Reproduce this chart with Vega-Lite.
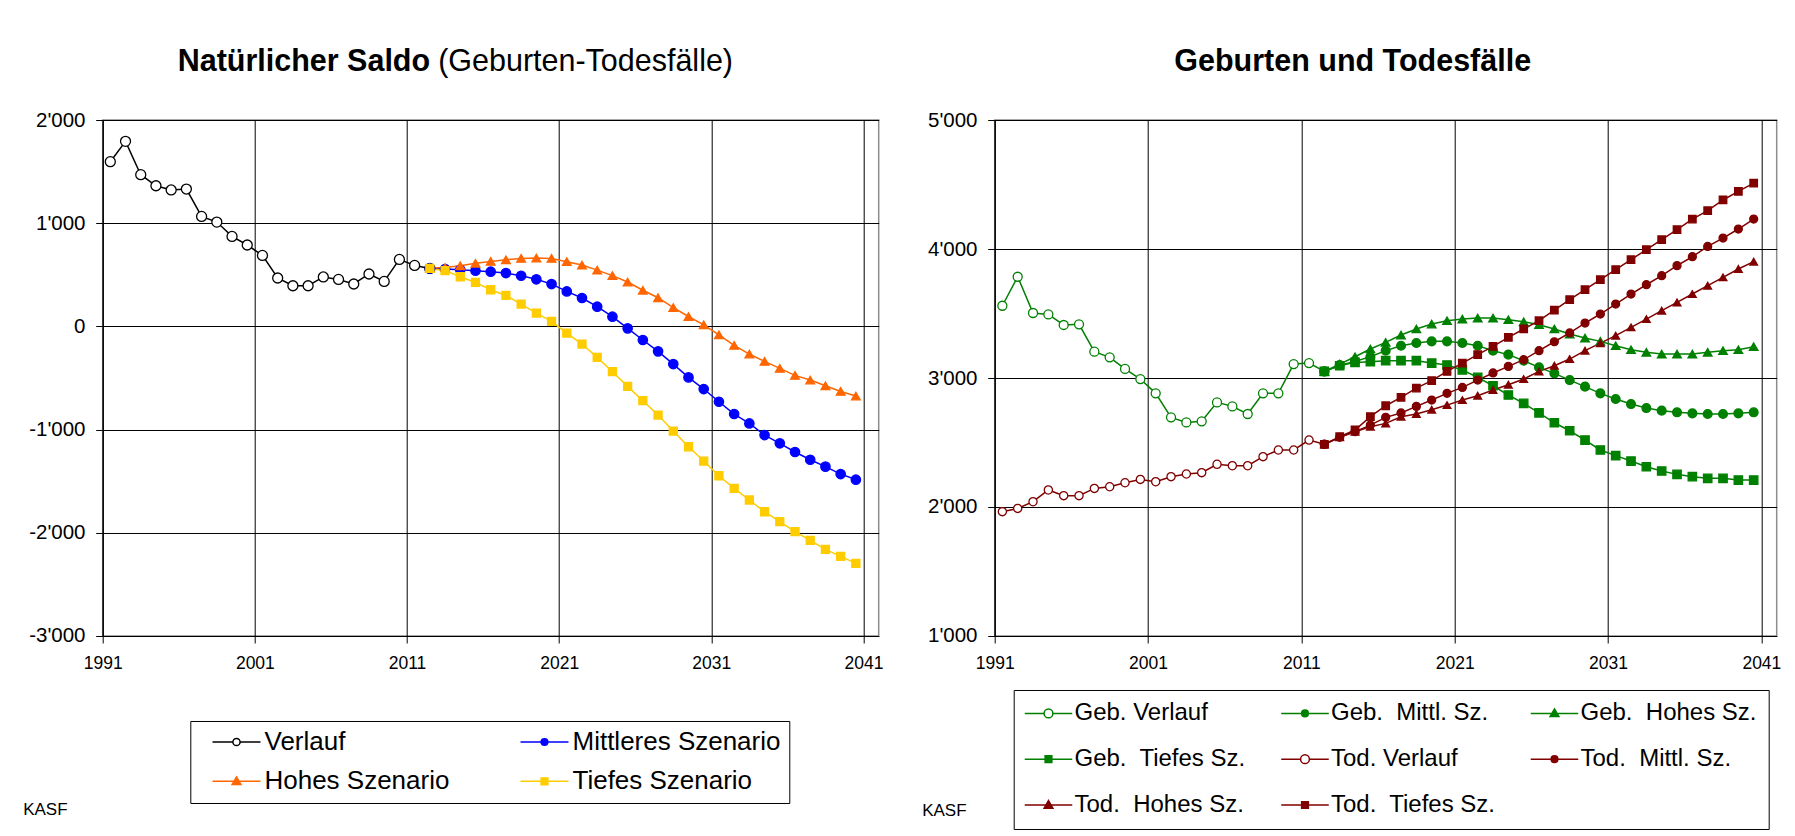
{
  "$schema": "https://vega.github.io/schema/vega-lite/v6.json",
  "background": "white",
  "padding": {"left": 21.7, "top": 45, "right": 0, "bottom": 0},
  "bounds": "flush",
  "spacing": 116,
  "resolve": {"scale": {"color": "independent", "shape": "independent", "fill": "independent", "stroke": "independent", "size": "independent"}, "legend": {"shape": "independent", "fill": "independent", "stroke": "independent", "color": "independent", "size": "independent"}},
  "datasets": {
    "saldo": [
      {"year":1991,"series":"Verlauf","value":1596},{"year":1992,"series":"Verlauf","value":1793},{"year":1993,"series":"Verlauf","value":1470},{"year":1994,"series":"Verlauf","value":1363},{"year":1995,"series":"Verlauf","value":1322},{"year":1996,"series":"Verlauf","value":1331},{"year":1997,"series":"Verlauf","value":1066},{"year":1998,"series":"Verlauf","value":1011},{"year":1999,"series":"Verlauf","value":872},{"year":2000,"series":"Verlauf","value":789},{"year":2001,"series":"Verlauf","value":688},{"year":2002,"series":"Verlauf","value":469},{"year":2003,"series":"Verlauf","value":394},{"year":2004,"series":"Verlauf","value":394},{"year":2005,"series":"Verlauf","value":479},{"year":2006,"series":"Verlauf","value":455},{"year":2007,"series":"Verlauf","value":411},{"year":2008,"series":"Verlauf","value":508},{"year":2009,"series":"Verlauf","value":436},{"year":2010,"series":"Verlauf","value":649},{"year":2011,"series":"Verlauf","value":591},{"year":2012,"series":"Verlauf","value":562},
      {"year":2012,"series":"Mittleres Szenario","value":562},{"year":2013,"series":"Mittleres Szenario","value":556},{"year":2014,"series":"Mittleres Szenario","value":548},{"year":2015,"series":"Mittleres Szenario","value":540},{"year":2016,"series":"Mittleres Szenario","value":530},{"year":2017,"series":"Mittleres Szenario","value":517},{"year":2018,"series":"Mittleres Szenario","value":491},{"year":2019,"series":"Mittleres Szenario","value":456},{"year":2020,"series":"Mittleres Szenario","value":410},{"year":2021,"series":"Mittleres Szenario","value":339},{"year":2022,"series":"Mittleres Szenario","value":275},{"year":2023,"series":"Mittleres Szenario","value":191},{"year":2024,"series":"Mittleres Szenario","value":94},{"year":2025,"series":"Mittleres Szenario","value":-19},{"year":2026,"series":"Mittleres Szenario","value":-132},{"year":2027,"series":"Mittleres Szenario","value":-242},{"year":2028,"series":"Mittleres Szenario","value":-365},{"year":2029,"series":"Mittleres Szenario","value":-494},{"year":2030,"series":"Mittleres Szenario","value":-607},{"year":2031,"series":"Mittleres Szenario","value":-730},{"year":2032,"series":"Mittleres Szenario","value":-849},{"year":2033,"series":"Mittleres Szenario","value":-940},{"year":2034,"series":"Mittleres Szenario","value":-1053},{"year":2035,"series":"Mittleres Szenario","value":-1133},{"year":2036,"series":"Mittleres Szenario","value":-1217},{"year":2037,"series":"Mittleres Szenario","value":-1292},{"year":2038,"series":"Mittleres Szenario","value":-1359},{"year":2039,"series":"Mittleres Szenario","value":-1431},{"year":2040,"series":"Mittleres Szenario","value":-1485},
      {"year":2012,"series":"Hohes Szenario","value":565},{"year":2013,"series":"Hohes Szenario","value":570},{"year":2014,"series":"Hohes Szenario","value":588},{"year":2015,"series":"Hohes Szenario","value":612},{"year":2016,"series":"Hohes Szenario","value":630},{"year":2017,"series":"Hohes Szenario","value":646},{"year":2018,"series":"Hohes Szenario","value":659},{"year":2019,"series":"Hohes Szenario","value":662},{"year":2020,"series":"Hohes Szenario","value":659},{"year":2021,"series":"Hohes Szenario","value":627},{"year":2022,"series":"Hohes Szenario","value":595},{"year":2023,"series":"Hohes Szenario","value":545},{"year":2024,"series":"Hohes Szenario","value":492},{"year":2025,"series":"Hohes Szenario","value":430},{"year":2026,"series":"Hohes Szenario","value":350},{"year":2027,"series":"Hohes Szenario","value":278},{"year":2028,"series":"Hohes Szenario","value":182},{"year":2029,"series":"Hohes Szenario","value":96},{"year":2030,"series":"Hohes Szenario","value":15},{"year":2031,"series":"Hohes Szenario","value":-82},{"year":2032,"series":"Hohes Szenario","value":-184},{"year":2033,"series":"Hohes Szenario","value":-268},{"year":2034,"series":"Hohes Szenario","value":-339},{"year":2035,"series":"Hohes Szenario","value":-407},{"year":2036,"series":"Hohes Szenario","value":-475},{"year":2037,"series":"Hohes Szenario","value":-520},{"year":2038,"series":"Hohes Szenario","value":-575},{"year":2039,"series":"Hohes Szenario","value":-630},{"year":2040,"series":"Hohes Szenario","value":-675},
      {"year":2012,"series":"Tiefes Szenario","value":562},{"year":2013,"series":"Tiefes Szenario","value":540},{"year":2014,"series":"Tiefes Szenario","value":481},{"year":2015,"series":"Tiefes Szenario","value":426},{"year":2016,"series":"Tiefes Szenario","value":355},{"year":2017,"series":"Tiefes Szenario","value":300},{"year":2018,"series":"Tiefes Szenario","value":216},{"year":2019,"series":"Tiefes Szenario","value":129},{"year":2020,"series":"Tiefes Szenario","value":48},{"year":2021,"series":"Tiefes Szenario","value":-65},{"year":2022,"series":"Tiefes Szenario","value":-171},{"year":2023,"series":"Tiefes Szenario","value":-300},{"year":2024,"series":"Tiefes Szenario","value":-439},{"year":2025,"series":"Tiefes Szenario","value":-581},{"year":2026,"series":"Tiefes Szenario","value":-720},{"year":2027,"series":"Tiefes Szenario","value":-859},{"year":2028,"series":"Tiefes Szenario","value":-1014},{"year":2029,"series":"Tiefes Szenario","value":-1166},{"year":2030,"series":"Tiefes Szenario","value":-1305},{"year":2031,"series":"Tiefes Szenario","value":-1447},{"year":2032,"series":"Tiefes Szenario","value":-1569},{"year":2033,"series":"Tiefes Szenario","value":-1682},{"year":2034,"series":"Tiefes Szenario","value":-1796},{"year":2035,"series":"Tiefes Szenario","value":-1892},{"year":2036,"series":"Tiefes Szenario","value":-1989},{"year":2037,"series":"Tiefes Szenario","value":-2073},{"year":2038,"series":"Tiefes Szenario","value":-2161},{"year":2039,"series":"Tiefes Szenario","value":-2228},{"year":2040,"series":"Tiefes Szenario","value":-2296}
    ],
    "gt": [
      {"year":1991,"series":"Geb. Verlauf","value":3560},{"year":1992,"series":"Geb. Verlauf","value":3785},{"year":1993,"series":"Geb. Verlauf","value":3504},{"year":1994,"series":"Geb. Verlauf","value":3493},{"year":1995,"series":"Geb. Verlauf","value":3411},{"year":1996,"series":"Geb. Verlauf","value":3416},{"year":1997,"series":"Geb. Verlauf","value":3204},{"year":1998,"series":"Geb. Verlauf","value":3160},{"year":1999,"series":"Geb. Verlauf","value":3070},{"year":2000,"series":"Geb. Verlauf","value":2992},{"year":2001,"series":"Geb. Verlauf","value":2881},{"year":2002,"series":"Geb. Verlauf","value":2695},{"year":2003,"series":"Geb. Verlauf","value":2656},{"year":2004,"series":"Geb. Verlauf","value":2664},{"year":2005,"series":"Geb. Verlauf","value":2811},{"year":2006,"series":"Geb. Verlauf","value":2780},{"year":2007,"series":"Geb. Verlauf","value":2721},{"year":2008,"series":"Geb. Verlauf","value":2881},{"year":2009,"series":"Geb. Verlauf","value":2881},{"year":2010,"series":"Geb. Verlauf","value":3108},{"year":2011,"series":"Geb. Verlauf","value":3116},{"year":2012,"series":"Geb. Verlauf","value":3051},
      {"year":1991,"series":"Tod. Verlauf","value":1964},{"year":1992,"series":"Tod. Verlauf","value":1989},{"year":1993,"series":"Tod. Verlauf","value":2041},{"year":1994,"series":"Tod. Verlauf","value":2132},{"year":1995,"series":"Tod. Verlauf","value":2088},{"year":1996,"series":"Tod. Verlauf","value":2088},{"year":1997,"series":"Tod. Verlauf","value":2144},{"year":1998,"series":"Tod. Verlauf","value":2157},{"year":1999,"series":"Tod. Verlauf","value":2188},{"year":2000,"series":"Tod. Verlauf","value":2214},{"year":2001,"series":"Tod. Verlauf","value":2196},{"year":2002,"series":"Tod. Verlauf","value":2235},{"year":2003,"series":"Tod. Verlauf","value":2256},{"year":2004,"series":"Tod. Verlauf","value":2266},{"year":2005,"series":"Tod. Verlauf","value":2331},{"year":2006,"series":"Tod. Verlauf","value":2320},{"year":2007,"series":"Tod. Verlauf","value":2320},{"year":2008,"series":"Tod. Verlauf","value":2390},{"year":2009,"series":"Tod. Verlauf","value":2442},{"year":2010,"series":"Tod. Verlauf","value":2442},{"year":2011,"series":"Tod. Verlauf","value":2519},{"year":2012,"series":"Tod. Verlauf","value":2486},
      {"year":2012,"series":"Geb.\u00a0 Mittl. Sz.","value":3051},{"year":2013,"series":"Geb.\u00a0 Mittl. Sz.","value":3100},{"year":2014,"series":"Geb.\u00a0 Mittl. Sz.","value":3129},{"year":2015,"series":"Geb.\u00a0 Mittl. Sz.","value":3165},{"year":2016,"series":"Geb.\u00a0 Mittl. Sz.","value":3212},{"year":2017,"series":"Geb.\u00a0 Mittl. Sz.","value":3250},{"year":2018,"series":"Geb.\u00a0 Mittl. Sz.","value":3271},{"year":2019,"series":"Geb.\u00a0 Mittl. Sz.","value":3284},{"year":2020,"series":"Geb.\u00a0 Mittl. Sz.","value":3284},{"year":2021,"series":"Geb.\u00a0 Mittl. Sz.","value":3271},{"year":2022,"series":"Geb.\u00a0 Mittl. Sz.","value":3250},{"year":2023,"series":"Geb.\u00a0 Mittl. Sz.","value":3212},{"year":2024,"series":"Geb.\u00a0 Mittl. Sz.","value":3181},{"year":2025,"series":"Geb.\u00a0 Mittl. Sz.","value":3134},{"year":2026,"series":"Geb.\u00a0 Mittl. Sz.","value":3082},{"year":2027,"series":"Geb.\u00a0 Mittl. Sz.","value":3036},{"year":2028,"series":"Geb.\u00a0 Mittl. Sz.","value":2984},{"year":2029,"series":"Geb.\u00a0 Mittl. Sz.","value":2933},{"year":2030,"series":"Geb.\u00a0 Mittl. Sz.","value":2881},{"year":2031,"series":"Geb.\u00a0 Mittl. Sz.","value":2837},{"year":2032,"series":"Geb.\u00a0 Mittl. Sz.","value":2798},{"year":2033,"series":"Geb.\u00a0 Mittl. Sz.","value":2767},{"year":2034,"series":"Geb.\u00a0 Mittl. Sz.","value":2747},{"year":2035,"series":"Geb.\u00a0 Mittl. Sz.","value":2734},{"year":2036,"series":"Geb.\u00a0 Mittl. Sz.","value":2726},{"year":2037,"series":"Geb.\u00a0 Mittl. Sz.","value":2721},{"year":2038,"series":"Geb.\u00a0 Mittl. Sz.","value":2721},{"year":2039,"series":"Geb.\u00a0 Mittl. Sz.","value":2726},{"year":2040,"series":"Geb.\u00a0 Mittl. Sz.","value":2734},
      {"year":2012,"series":"Geb.\u00a0 Hohes Sz.","value":3051},{"year":2013,"series":"Geb.\u00a0 Hohes Sz.","value":3108},{"year":2014,"series":"Geb.\u00a0 Hohes Sz.","value":3165},{"year":2015,"series":"Geb.\u00a0 Hohes Sz.","value":3225},{"year":2016,"series":"Geb.\u00a0 Hohes Sz.","value":3276},{"year":2017,"series":"Geb.\u00a0 Hohes Sz.","value":3333},{"year":2018,"series":"Geb.\u00a0 Hohes Sz.","value":3380},{"year":2019,"series":"Geb.\u00a0 Hohes Sz.","value":3418},{"year":2020,"series":"Geb.\u00a0 Hohes Sz.","value":3444},{"year":2021,"series":"Geb.\u00a0 Hohes Sz.","value":3457},{"year":2022,"series":"Geb.\u00a0 Hohes Sz.","value":3465},{"year":2023,"series":"Geb.\u00a0 Hohes Sz.","value":3465},{"year":2024,"series":"Geb.\u00a0 Hohes Sz.","value":3452},{"year":2025,"series":"Geb.\u00a0 Hohes Sz.","value":3436},{"year":2026,"series":"Geb.\u00a0 Hohes Sz.","value":3413},{"year":2027,"series":"Geb.\u00a0 Hohes Sz.","value":3380},{"year":2028,"series":"Geb.\u00a0 Hohes Sz.","value":3341},{"year":2029,"series":"Geb.\u00a0 Hohes Sz.","value":3310},{"year":2030,"series":"Geb.\u00a0 Hohes Sz.","value":3284},{"year":2031,"series":"Geb.\u00a0 Hohes Sz.","value":3250},{"year":2032,"series":"Geb.\u00a0 Hohes Sz.","value":3219},{"year":2033,"series":"Geb.\u00a0 Hohes Sz.","value":3199},{"year":2034,"series":"Geb.\u00a0 Hohes Sz.","value":3186},{"year":2035,"series":"Geb.\u00a0 Hohes Sz.","value":3186},{"year":2036,"series":"Geb.\u00a0 Hohes Sz.","value":3186},{"year":2037,"series":"Geb.\u00a0 Hohes Sz.","value":3199},{"year":2038,"series":"Geb.\u00a0 Hohes Sz.","value":3212},{"year":2039,"series":"Geb.\u00a0 Hohes Sz.","value":3219},{"year":2040,"series":"Geb.\u00a0 Hohes Sz.","value":3243},
      {"year":2012,"series":"Geb.\u00a0 Tiefes Sz.","value":3051},{"year":2013,"series":"Geb.\u00a0 Tiefes Sz.","value":3095},{"year":2014,"series":"Geb.\u00a0 Tiefes Sz.","value":3121},{"year":2015,"series":"Geb.\u00a0 Tiefes Sz.","value":3126},{"year":2016,"series":"Geb.\u00a0 Tiefes Sz.","value":3134},{"year":2017,"series":"Geb.\u00a0 Tiefes Sz.","value":3134},{"year":2018,"series":"Geb.\u00a0 Tiefes Sz.","value":3134},{"year":2019,"series":"Geb.\u00a0 Tiefes Sz.","value":3116},{"year":2020,"series":"Geb.\u00a0 Tiefes Sz.","value":3101},{"year":2021,"series":"Geb.\u00a0 Tiefes Sz.","value":3062},{"year":2022,"series":"Geb.\u00a0 Tiefes Sz.","value":3005},{"year":2023,"series":"Geb.\u00a0 Tiefes Sz.","value":2940},{"year":2024,"series":"Geb.\u00a0 Tiefes Sz.","value":2868},{"year":2025,"series":"Geb.\u00a0 Tiefes Sz.","value":2803},{"year":2026,"series":"Geb.\u00a0 Tiefes Sz.","value":2729},{"year":2027,"series":"Geb.\u00a0 Tiefes Sz.","value":2653},{"year":2028,"series":"Geb.\u00a0 Tiefes Sz.","value":2591},{"year":2029,"series":"Geb.\u00a0 Tiefes Sz.","value":2519},{"year":2030,"series":"Geb.\u00a0 Tiefes Sz.","value":2442},{"year":2031,"series":"Geb.\u00a0 Tiefes Sz.","value":2398},{"year":2032,"series":"Geb.\u00a0 Tiefes Sz.","value":2356},{"year":2033,"series":"Geb.\u00a0 Tiefes Sz.","value":2312},{"year":2034,"series":"Geb.\u00a0 Tiefes Sz.","value":2279},{"year":2035,"series":"Geb.\u00a0 Tiefes Sz.","value":2253},{"year":2036,"series":"Geb.\u00a0 Tiefes Sz.","value":2235},{"year":2037,"series":"Geb.\u00a0 Tiefes Sz.","value":2222},{"year":2038,"series":"Geb.\u00a0 Tiefes Sz.","value":2222},{"year":2039,"series":"Geb.\u00a0 Tiefes Sz.","value":2209},{"year":2040,"series":"Geb.\u00a0 Tiefes Sz.","value":2209},
      {"year":2012,"series":"Tod.\u00a0 Mittl. Sz.","value":2486},{"year":2013,"series":"Tod.\u00a0 Mittl. Sz.","value":2540},{"year":2014,"series":"Tod.\u00a0 Mittl. Sz.","value":2584},{"year":2015,"series":"Tod.\u00a0 Mittl. Sz.","value":2635},{"year":2016,"series":"Tod.\u00a0 Mittl. Sz.","value":2695},{"year":2017,"series":"Tod.\u00a0 Mittl. Sz.","value":2729},{"year":2018,"series":"Tod.\u00a0 Mittl. Sz.","value":2780},{"year":2019,"series":"Tod.\u00a0 Mittl. Sz.","value":2829},{"year":2020,"series":"Tod.\u00a0 Mittl. Sz.","value":2881},{"year":2021,"series":"Tod.\u00a0 Mittl. Sz.","value":2927},{"year":2022,"series":"Tod.\u00a0 Mittl. Sz.","value":2984},{"year":2023,"series":"Tod.\u00a0 Mittl. Sz.","value":3039},{"year":2024,"series":"Tod.\u00a0 Mittl. Sz.","value":3090},{"year":2025,"series":"Tod.\u00a0 Mittl. Sz.","value":3142},{"year":2026,"series":"Tod.\u00a0 Mittl. Sz.","value":3212},{"year":2027,"series":"Tod.\u00a0 Mittl. Sz.","value":3281},{"year":2028,"series":"Tod.\u00a0 Mittl. Sz.","value":3349},{"year":2029,"series":"Tod.\u00a0 Mittl. Sz.","value":3426},{"year":2030,"series":"Tod.\u00a0 Mittl. Sz.","value":3496},{"year":2031,"series":"Tod.\u00a0 Mittl. Sz.","value":3573},{"year":2032,"series":"Tod.\u00a0 Mittl. Sz.","value":3651},{"year":2033,"series":"Tod.\u00a0 Mittl. Sz.","value":3723},{"year":2034,"series":"Tod.\u00a0 Mittl. Sz.","value":3793},{"year":2035,"series":"Tod.\u00a0 Mittl. Sz.","value":3871},{"year":2036,"series":"Tod.\u00a0 Mittl. Sz.","value":3940},{"year":2037,"series":"Tod.\u00a0 Mittl. Sz.","value":4020},{"year":2038,"series":"Tod.\u00a0 Mittl. Sz.","value":4085},{"year":2039,"series":"Tod.\u00a0 Mittl. Sz.","value":4155},{"year":2040,"series":"Tod.\u00a0 Mittl. Sz.","value":4232},
      {"year":2012,"series":"Tod.\u00a0 Hohes Sz.","value":2486},{"year":2013,"series":"Tod.\u00a0 Hohes Sz.","value":2540},{"year":2014,"series":"Tod.\u00a0 Hohes Sz.","value":2584},{"year":2015,"series":"Tod.\u00a0 Hohes Sz.","value":2622},{"year":2016,"series":"Tod.\u00a0 Hohes Sz.","value":2648},{"year":2017,"series":"Tod.\u00a0 Hohes Sz.","value":2700},{"year":2018,"series":"Tod.\u00a0 Hohes Sz.","value":2721},{"year":2019,"series":"Tod.\u00a0 Hohes Sz.","value":2754},{"year":2020,"series":"Tod.\u00a0 Hohes Sz.","value":2790},{"year":2021,"series":"Tod.\u00a0 Hohes Sz.","value":2829},{"year":2022,"series":"Tod.\u00a0 Hohes Sz.","value":2863},{"year":2023,"series":"Tod.\u00a0 Hohes Sz.","value":2907},{"year":2024,"series":"Tod.\u00a0 Hohes Sz.","value":2948},{"year":2025,"series":"Tod.\u00a0 Hohes Sz.","value":2992},{"year":2026,"series":"Tod.\u00a0 Hohes Sz.","value":3051},{"year":2027,"series":"Tod.\u00a0 Hohes Sz.","value":3095},{"year":2028,"series":"Tod.\u00a0 Hohes Sz.","value":3147},{"year":2029,"series":"Tod.\u00a0 Hohes Sz.","value":3212},{"year":2030,"series":"Tod.\u00a0 Hohes Sz.","value":3270},{"year":2031,"series":"Tod.\u00a0 Hohes Sz.","value":3328},{"year":2032,"series":"Tod.\u00a0 Hohes Sz.","value":3393},{"year":2033,"series":"Tod.\u00a0 Hohes Sz.","value":3457},{"year":2034,"series":"Tod.\u00a0 Hohes Sz.","value":3522},{"year":2035,"series":"Tod.\u00a0 Hohes Sz.","value":3586},{"year":2036,"series":"Tod.\u00a0 Hohes Sz.","value":3651},{"year":2037,"series":"Tod.\u00a0 Hohes Sz.","value":3716},{"year":2038,"series":"Tod.\u00a0 Hohes Sz.","value":3780},{"year":2039,"series":"Tod.\u00a0 Hohes Sz.","value":3845},{"year":2040,"series":"Tod.\u00a0 Hohes Sz.","value":3902},
      {"year":2012,"series":"Tod.\u00a0 Tiefes Sz.","value":2486},{"year":2013,"series":"Tod.\u00a0 Tiefes Sz.","value":2545},{"year":2014,"series":"Tod.\u00a0 Tiefes Sz.","value":2597},{"year":2015,"series":"Tod.\u00a0 Tiefes Sz.","value":2700},{"year":2016,"series":"Tod.\u00a0 Tiefes Sz.","value":2785},{"year":2017,"series":"Tod.\u00a0 Tiefes Sz.","value":2850},{"year":2018,"series":"Tod.\u00a0 Tiefes Sz.","value":2922},{"year":2019,"series":"Tod.\u00a0 Tiefes Sz.","value":2979},{"year":2020,"series":"Tod.\u00a0 Tiefes Sz.","value":3051},{"year":2021,"series":"Tod.\u00a0 Tiefes Sz.","value":3116},{"year":2022,"series":"Tod.\u00a0 Tiefes Sz.","value":3181},{"year":2023,"series":"Tod.\u00a0 Tiefes Sz.","value":3245},{"year":2024,"series":"Tod.\u00a0 Tiefes Sz.","value":3315},{"year":2025,"series":"Tod.\u00a0 Tiefes Sz.","value":3380},{"year":2026,"series":"Tod.\u00a0 Tiefes Sz.","value":3444},{"year":2027,"series":"Tod.\u00a0 Tiefes Sz.","value":3527},{"year":2028,"series":"Tod.\u00a0 Tiefes Sz.","value":3607},{"year":2029,"series":"Tod.\u00a0 Tiefes Sz.","value":3685},{"year":2030,"series":"Tod.\u00a0 Tiefes Sz.","value":3762},{"year":2031,"series":"Tod.\u00a0 Tiefes Sz.","value":3840},{"year":2032,"series":"Tod.\u00a0 Tiefes Sz.","value":3917},{"year":2033,"series":"Tod.\u00a0 Tiefes Sz.","value":3995},{"year":2034,"series":"Tod.\u00a0 Tiefes Sz.","value":4072},{"year":2035,"series":"Tod.\u00a0 Tiefes Sz.","value":4150},{"year":2036,"series":"Tod.\u00a0 Tiefes Sz.","value":4232},{"year":2037,"series":"Tod.\u00a0 Tiefes Sz.","value":4297},{"year":2038,"series":"Tod.\u00a0 Tiefes Sz.","value":4380},{"year":2039,"series":"Tod.\u00a0 Tiefes Sz.","value":4447},{"year":2040,"series":"Tod.\u00a0 Tiefes Sz.","value":4511}
    ]
  },
  "hconcat": [
    {
      "width": 776,
      "height": 516,
      "data": {"name": "saldo"},
      "title": {
        "text": "Natürlicher Saldo",
        "anchor": "start", "frame": "group", "dx": 75, "offset": -31,
        "font": "Liberation Sans", "fontSize": 30.5, "fontWeight": "bold", "color": "#000000"
      },
      "encoding": {
        "x": {"field": "year", "type": "quantitative",
          "scale": {"domain": [1990.5, 2041.5], "nice": false, "zero": false},
          "axis": {"values": [1990.5, 2000.5, 2010.5, 2020.5, 2030.5, 2040.5], "labelExpr": "'' + (datum.value + 0.5)",
            "labelDx": 7.5, "labelFontSize": 17.5, "labelPadding": 11.5, "labelFlush": false, "labelOverlap": false,
            "title": "KASF", "titleX": -80, "titleY": 179, "titleAlign": "left", "titleBaseline": "alphabetic", "titleFontSize": 17, "titleFontWeight": "normal"}},
        "y": {"field": "value", "type": "quantitative",
          "scale": {"domain": [-3000, 2000], "nice": false, "zero": false},
          "axis": {"values": [-3000, -2000, -1000, 0, 1000, 2000], "format": ",d", "labelFontSize": 20.5, "labelPadding": 10.7,
            "title": "(Geburten-Todesfälle)", "titleAngle": 0, "titleX": 335, "titleY": -50, "titleAlign": "left", "titleBaseline": "alphabetic",
            "titleFontSize": 30.5, "titleFontWeight": "normal", "titleColor": "#000000"}}
      },
      "layer": [
        {"mark": {"type": "line", "strokeWidth": 1.5},
         "encoding": {"color": {"field": "series", "type": "nominal", "legend": null,
            "scale": {"domain": ["Verlauf", "Mittleres Szenario", "Hohes Szenario", "Tiefes Szenario"], "range": ["#000000", "#0000ff", "#ff6600", "#ffcc00"]}}}},
        {"mark": {"type": "point", "opacity": 1, "strokeWidth": 1.3},
         "encoding": {
           "shape": {"field": "series", "type": "nominal", "legend": null, "scale": {"domain": ["Verlauf", "Mittleres Szenario", "Hohes Szenario", "Tiefes Szenario"], "range": ["circle", "circle", "triangle-up", "square"]}},
           "fill": {"field": "series", "type": "nominal", "legend": null, "scale": {"domain": ["Verlauf", "Mittleres Szenario", "Hohes Szenario", "Tiefes Szenario"], "range": ["#ffffff", "#0000ff", "#ff6600", "#ffcc00"]}},
           "stroke": {"field": "series", "type": "nominal", "legend": null, "scale": {"domain": ["Verlauf", "Mittleres Szenario", "Hohes Szenario", "Tiefes Szenario"], "range": ["#000000", "#0000ff", "#ff6600", "#ffcc00"]}},
           "size": {"field": "series", "type": "nominal", "legend": null, "scale": {"domain": ["Verlauf", "Mittleres Szenario", "Hohes Szenario", "Tiefes Szenario"], "range": [100, 64, 100, 64]}}
         }},
        {"transform": [{"filter": "false"}],
         "mark": {"type": "point", "opacity": 1, "strokeWidth": 1.5, "size": 256},
         "encoding": {
           "shape": {"field": "series", "type": "nominal", "title": null, "scale": {"domain": ["Verlauf", "Mittleres Szenario", "Hohes Szenario", "Tiefes Szenario"],
              "range": ["M-3,0H-0.45M0.45,0H3M-0.45,0A0.45,0.45 0 1 1 0.45,0A0.45,0.45 0 1 1 -0.45,0Z",
                        "M-3,0H3M-0.42,0A0.42,0.42 0 1 1 0.42,0A0.42,0.42 0 1 1 -0.42,0Z",
                        "M-3,0H3M0,-0.55L0.55,0.4L-0.55,0.4Z",
                        "M-3,0H3M-0.42,-0.42H0.42V0.42H-0.42Z"]},
              "legend": {"orient": "none", "legendX": 87.6, "legendY": 601, "columns": 2, "direction": "horizontal",
                "labelFont": "Liberation Sans", "labelFontSize": 26, "labelColor": "#000000", "labelLimit": 500,
                "symbolSize": 256, "symbolStrokeWidth": 1.5, "symbolOpacity": 1, "symbolOffset": 25.2, "labelOffset": 15,
                "columnPadding": 56, "rowPadding": 13.3, "padding": 8, "strokeColor": "#000000", "fillColor": "#ffffff"}},
           "fill": {"field": "series", "type": "nominal", "title": null, "scale": {"domain": ["Verlauf", "Mittleres Szenario", "Hohes Szenario", "Tiefes Szenario"], "range": ["#ffffff", "#0000ff", "#ff6600", "#ffcc00"]}},
           "stroke": {"field": "series", "type": "nominal", "title": null, "scale": {"domain": ["Verlauf", "Mittleres Szenario", "Hohes Szenario", "Tiefes Szenario"], "range": ["#000000", "#0000ff", "#ff6600", "#ffcc00"]}}
         }}
      ],
      "resolve": {"scale": {"shape": "independent", "fill": "independent", "stroke": "independent"}}
    },
    {
      "width": 782,
      "height": 516,
      "data": {"name": "gt"},
      "title": {
        "text": "Geburten und Todesfälle",
        "anchor": "start", "frame": "group", "dx": 179.6, "offset": 33,
        "font": "Liberation Sans", "fontSize": 30.5, "fontWeight": "bold", "color": "#000000"
      },
      "encoding": {
        "x": {"field": "year", "type": "quantitative",
          "scale": {"domain": [1990.5, 2041.5], "nice": false, "zero": false},
          "axis": {"values": [1990.5, 2000.5, 2010.5, 2020.5, 2030.5, 2040.5], "labelExpr": "'' + (datum.value + 0.5)",
            "labelDx": 7.5, "labelFontSize": 17.5, "labelPadding": 11.5, "labelFlush": false, "labelOverlap": false,
            "title": "KASF", "titleX": -73, "titleY": 180, "titleAlign": "left", "titleBaseline": "alphabetic", "titleFontSize": 17, "titleFontWeight": "normal"}},
        "y": {"field": "value", "type": "quantitative",
          "scale": {"domain": [1000, 5000], "nice": false, "zero": false},
          "axis": {"values": [1000, 2000, 3000, 4000, 5000], "format": ",d", "title": null, "labelFontSize": 20.5, "labelPadding": 10.7}}
      },
      "layer": [
        {"mark": {"type": "line", "strokeWidth": 1.5},
         "encoding": {"color": {"field": "series", "type": "nominal", "legend": null,
            "scale": {"domain": ["Geb. Verlauf", "Geb.\u00a0 Mittl. Sz.", "Geb.\u00a0 Hohes Sz.", "Geb.\u00a0 Tiefes Sz.", "Tod. Verlauf", "Tod.\u00a0 Mittl. Sz.", "Tod.\u00a0 Hohes Sz.", "Tod.\u00a0 Tiefes Sz."],
              "range": ["#008000", "#008000", "#008000", "#008000", "#800000", "#800000", "#800000", "#800000"]}}}},
        {"mark": {"type": "point", "opacity": 1, "strokeWidth": 1.3},
         "encoding": {
           "shape": {"field": "series", "type": "nominal", "legend": null, "scale": {"domain": ["Geb. Verlauf", "Geb.\u00a0 Mittl. Sz.", "Geb.\u00a0 Hohes Sz.", "Geb.\u00a0 Tiefes Sz.", "Tod. Verlauf", "Tod.\u00a0 Mittl. Sz.", "Tod.\u00a0 Hohes Sz.", "Tod.\u00a0 Tiefes Sz."], "range": ["circle", "circle", "triangle-up", "square", "circle", "circle", "triangle-up", "square"]}},
           "fill": {"field": "series", "type": "nominal", "legend": null, "scale": {"domain": ["Geb. Verlauf", "Geb.\u00a0 Mittl. Sz.", "Geb.\u00a0 Hohes Sz.", "Geb.\u00a0 Tiefes Sz.", "Tod. Verlauf", "Tod.\u00a0 Mittl. Sz.", "Tod.\u00a0 Hohes Sz.", "Tod.\u00a0 Tiefes Sz."], "range": ["#ffffff", "#008000", "#008000", "#008000", "#ffffff", "#800000", "#800000", "#800000"]}},
           "stroke": {"field": "series", "type": "nominal", "legend": null, "scale": {"domain": ["Geb. Verlauf", "Geb.\u00a0 Mittl. Sz.", "Geb.\u00a0 Hohes Sz.", "Geb.\u00a0 Tiefes Sz.", "Tod. Verlauf", "Tod.\u00a0 Mittl. Sz.", "Tod.\u00a0 Hohes Sz.", "Tod.\u00a0 Tiefes Sz."], "range": ["#008000", "#008000", "#008000", "#008000", "#800000", "#800000", "#800000", "#800000"]}},
           "size": {"field": "series", "type": "nominal", "legend": null, "scale": {"domain": ["Geb. Verlauf", "Geb.\u00a0 Mittl. Sz.", "Geb.\u00a0 Hohes Sz.", "Geb.\u00a0 Tiefes Sz.", "Tod. Verlauf", "Tod.\u00a0 Mittl. Sz.", "Tod.\u00a0 Hohes Sz.", "Tod.\u00a0 Tiefes Sz."], "range": [81, 56, 81, 56, 81, 56, 81, 56]}}
         }},
        {"transform": [{"filter": "false"}],
         "mark": {"type": "point", "opacity": 1, "strokeWidth": 1.5, "size": 256},
         "encoding": {
           "shape": {"field": "series", "type": "nominal", "title": null, "scale": {"domain": ["Geb. Verlauf", "Geb.\u00a0 Mittl. Sz.", "Geb.\u00a0 Hohes Sz.", "Geb.\u00a0 Tiefes Sz.", "Tod. Verlauf", "Tod.\u00a0 Mittl. Sz.", "Tod.\u00a0 Hohes Sz.", "Tod.\u00a0 Tiefes Sz."],
              "range": ["M-2.97,0H-0.55M0.55,0H2.97M-0.55,0A0.55,0.55 0 1 1 0.55,0A0.55,0.55 0 1 1 -0.55,0Z",
                        "M-2.97,0H2.97M-0.42,0A0.42,0.42 0 1 1 0.42,0A0.42,0.42 0 1 1 -0.42,0Z",
                        "M-2.97,0H2.97M0,-0.55L0.55,0.4L-0.55,0.4Z",
                        "M-2.97,0H2.97M-0.42,-0.42H0.42V0.42H-0.42Z",
                        "M-2.97,0H-0.55M0.55,0H2.97M-0.55,0A0.55,0.55 0 1 1 0.55,0A0.55,0.55 0 1 1 -0.55,0Z",
                        "M-2.97,0H2.97M-0.42,0A0.42,0.42 0 1 1 0.42,0A0.42,0.42 0 1 1 -0.42,0Z",
                        "M-2.97,0H2.97M0,-0.55L0.55,0.4L-0.55,0.4Z",
                        "M-2.97,0H2.97M-0.42,-0.42H0.42V0.42H-0.42Z"]},
              "legend": {"orient": "none", "legendX": 19, "legendY": 570, "columns": 3, "direction": "horizontal",
                "labelFont": "Liberation Sans", "labelFontSize": 24, "labelColor": "#000000", "labelLimit": 500,
                "symbolSize": 256, "symbolStrokeWidth": 1.5, "symbolOpacity": 1, "symbolOffset": 11.4, "labelOffset": 14,
                "columnPadding": 31.5, "rowPadding": 21.8, "padding": 11.4, "strokeColor": "#000000", "fillColor": "#ffffff"}},
           "fill": {"field": "series", "type": "nominal", "title": null, "scale": {"domain": ["Geb. Verlauf", "Geb.\u00a0 Mittl. Sz.", "Geb.\u00a0 Hohes Sz.", "Geb.\u00a0 Tiefes Sz.", "Tod. Verlauf", "Tod.\u00a0 Mittl. Sz.", "Tod.\u00a0 Hohes Sz.", "Tod.\u00a0 Tiefes Sz."], "range": ["#ffffff", "#008000", "#008000", "#008000", "#ffffff", "#800000", "#800000", "#800000"]}},
           "stroke": {"field": "series", "type": "nominal", "title": null, "scale": {"domain": ["Geb. Verlauf", "Geb.\u00a0 Mittl. Sz.", "Geb.\u00a0 Hohes Sz.", "Geb.\u00a0 Tiefes Sz.", "Tod. Verlauf", "Tod.\u00a0 Mittl. Sz.", "Tod.\u00a0 Hohes Sz.", "Tod.\u00a0 Tiefes Sz."], "range": ["#008000", "#008000", "#008000", "#008000", "#800000", "#800000", "#800000", "#800000"]}}
         }}
      ],
      "resolve": {"scale": {"shape": "independent", "fill": "independent", "stroke": "independent"}}
    }
  ],
  "config": {
    "font": "Liberation Sans",
    "locale": {"number": {"decimal": ".", "thousands": "'", "grouping": [3], "currency": ["", ""], "minus": "-"}},
    "view": {"stroke": "#8c8c8c", "strokeWidth": 1.5},
    "axis": {"grid": true, "gridColor": "#000000", "gridWidth": 1, "gridOpacity": 1,
      "domainColor": "#000000", "domainWidth": 1.2, "tickColor": "#000000", "tickSize": 7, "tickWidth": 1,
      "labelColor": "#000000", "labelFont": "Liberation Sans", "titleColor": "#000000", "titleFont": "Liberation Sans"}
  }
}
